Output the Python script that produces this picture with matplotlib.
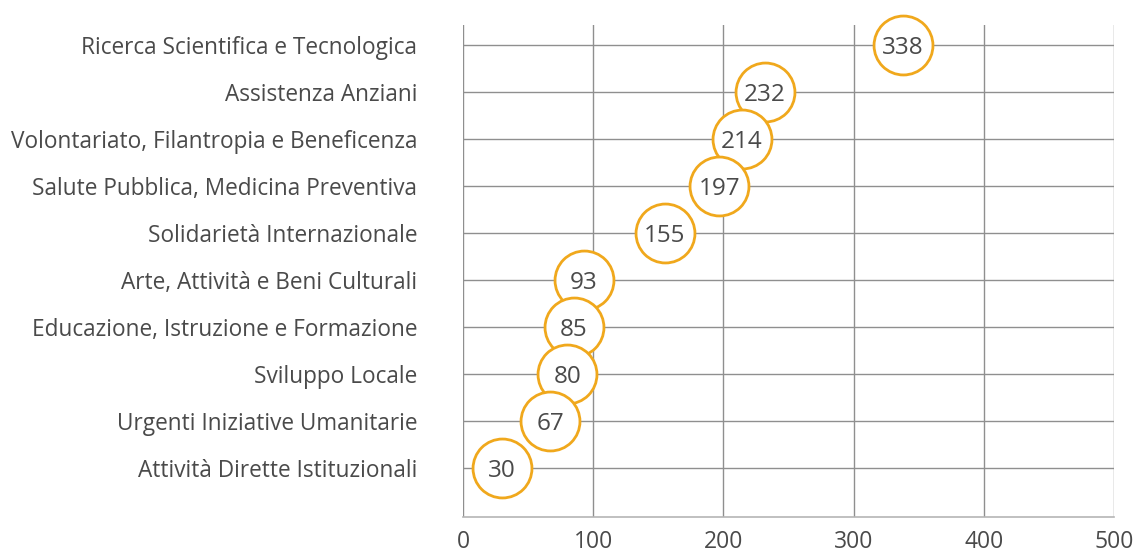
import matplotlib
matplotlib.use("Agg")
import matplotlib.pyplot as plt

categories = [
    "Ricerca Scientifica e Tecnologica",
    "Assistenza Anziani",
    "Volontariato, Filantropia e Beneficenza",
    "Salute Pubblica, Medicina Preventiva",
    "Solidarietà Internazionale",
    "Arte, Attività e Beni Culturali",
    "Educazione, Istruzione e Formazione",
    "Sviluppo Locale",
    "Urgenti Iniziative Umanitarie",
    "Attività Dirette Istituzionali",
]
values = [338, 232, 214, 197, 155, 93, 85, 80, 67, 30]
xticks = [0, 100, 200, 300, 400, 500]

plt.rcParams['font.family'] = ['Open Sans', 'DejaVu Sans']
text_color = "#4a4a4a"
orange = "#F0A81C"
grid_color = "#8f8f8f"

fig = plt.figure(figsize=(11.38, 5.57), dpi=100)
ax = fig.add_axes([463/1138, 1-517/557, (1114-463)/1138, (517-25)/557])

n = len(categories)
ypos = [n - 1 - i for i in range(n)]

ax.set_xlim(0, 500)
ax.set_ylim(-1.04, n - 1 + 0.43)
ax.set_xticks(xticks)
ax.set_xticklabels([str(t) for t in xticks])
ax.set_yticks(ypos)
ax.set_yticklabels(categories)

ax.grid(True, color=grid_color, linewidth=1.0)
ax.set_axisbelow(True)
for s in ["top", "left", "right"]:
    ax.spines[s].set_visible(False)
ax.spines["bottom"].set_color("#b5b5b5")
ax.spines["bottom"].set_linewidth(1.2)

ax.tick_params(axis="both", length=0, colors=text_color)
ax.tick_params(axis="y", pad=33, labelsize=16.3)
ax.tick_params(axis="x", pad=9, labelsize=16.5)

for i, (y, v) in enumerate(zip(ypos, values)):
    ax.scatter([v], [y], s=1800, facecolor="white", edgecolor=orange,
               linewidth=2.0, zorder=3 + i * 0.01, clip_on=False)
    ax.text(v, y, str(v), ha="center", va="center_baseline", fontsize=17.5,
            color=text_color, zorder=4 + i * 0.01)

fig.savefig("out.png", dpi=100)
